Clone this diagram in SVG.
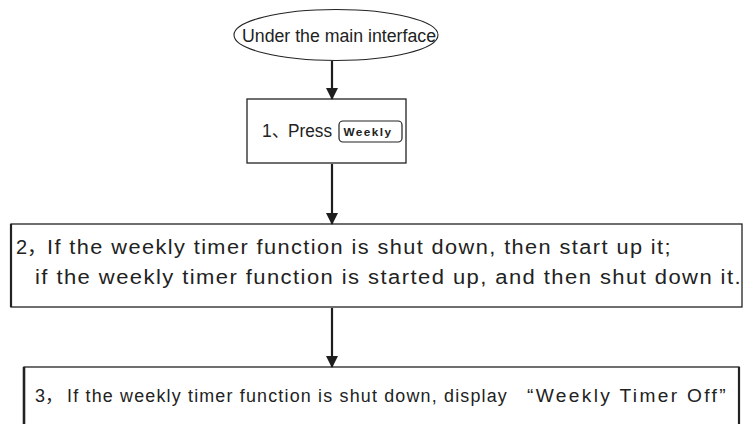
<svg xmlns="http://www.w3.org/2000/svg" width="744" height="424" viewBox="0 0 744 424">
<style>
.box{fill:#fff;stroke:#222;stroke-width:1.3}
.t{font-family:"Liberation Sans","Noto Sans CJK SC",Arial,sans-serif;fill:#222}
.conn{stroke:#1e1e1e;stroke-width:2.2;fill:none}
</style>
<defs>
<marker id="ah" markerUnits="userSpaceOnUse" markerWidth="12" markerHeight="16" refX="11" refY="6" orient="auto">
<path d="M0,0 L12,6 L0,12 Z" fill="#1e1e1e"/>
</marker>
</defs>
<rect width="744" height="424" fill="#fff"/>
<g id="start">
<ellipse cx="336" cy="35" rx="102" ry="25.5" fill="#fff" stroke="#222" stroke-width="1.1"/>
<text class="t" x="242" y="42" font-size="17.5" textLength="194" lengthAdjust="spacingAndGlyphs">Under the main interface</text>
</g>
<g id="step1">
<rect class="box" x="247" y="99" width="159" height="64"/>
<text class="t" x="262" y="137" font-size="17.5">1、<tspan x="288" textLength="44" lengthAdjust="spacingAndGlyphs">Press</tspan></text>
<rect x="339" y="121" width="63" height="21" rx="4" fill="#fff" stroke="#222" stroke-width="1.2"/>
<text class="t" x="343.5" y="136" font-size="11.5" font-weight="bold" letter-spacing="1.4" textLength="49" lengthAdjust="spacingAndGlyphs">Weekly</text>
</g>
<g id="step2">
<rect class="box" x="11" y="224" width="731" height="83"/>
<line x1="11" y1="224" x2="11" y2="307" stroke="#222" stroke-width="2.2"/>
<text class="t" x="16" y="254" font-size="20">2，<tspan x="47" letter-spacing="1.3" textLength="625" lengthAdjust="spacingAndGlyphs">If the weekly timer function is shut down, then start up it;</tspan></text>
<text class="t" x="35" y="284" font-size="20" letter-spacing="1.3" textLength="707" lengthAdjust="spacingAndGlyphs">if the weekly timer function is started up, and then shut down it.</text>
</g>
<g id="step3">
<rect class="box" x="24" y="367" width="715" height="70"/>
<line x1="24" y1="367" x2="24" y2="424" stroke="#222" stroke-width="2.6"/>
<line x1="739" y1="367" x2="739" y2="424" stroke="#222" stroke-width="2.2"/>
<text class="t" x="35" y="402" font-size="18">3，<tspan x="67" letter-spacing="1.2" textLength="441" lengthAdjust="spacingAndGlyphs">If the weekly timer function is shut down, display</tspan><tspan x="527" letter-spacing="2.2" textLength="201" lengthAdjust="spacingAndGlyphs">“Weekly Timer Off”</tspan></text>
</g>
<g id="connectors">
<line class="conn" x1="332" y1="61" x2="332" y2="99" marker-end="url(#ah)"/>
<line class="conn" x1="332" y1="164" x2="332" y2="224" marker-end="url(#ah)"/>
<line class="conn" x1="332" y1="308" x2="332" y2="367" marker-end="url(#ah)"/>
</g>
</svg>
